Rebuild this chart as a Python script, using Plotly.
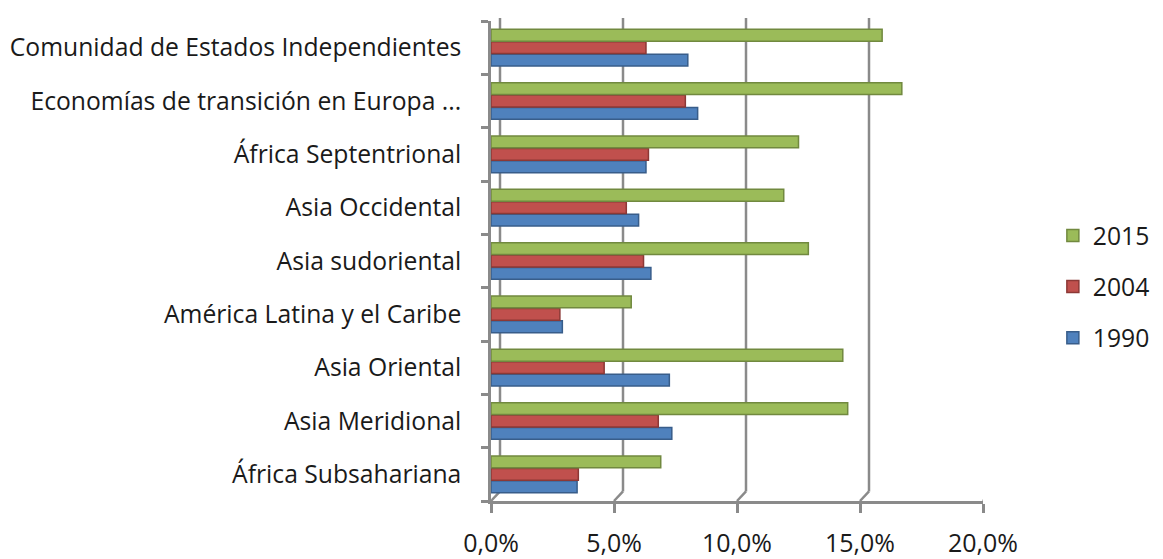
import plotly.graph_objects as go

categories = [
    "África Subsahariana",
    "Asia Meridional",
    "Asia Oriental",
    "América Latina y el Caribe",
    "Asia sudoriental",
    "Asia Occidental",
    "África Septentrional",
    "Economías de transición en Europa ...",
    "Comunidad de Estados Independientes",
]
v1990 = [3.5, 7.35, 7.25, 2.9, 6.5, 6.0, 6.3, 8.4, 8.0]
v2004 = [3.55, 6.8, 4.6, 2.8, 6.2, 5.5, 6.4, 7.9, 6.3]
v2015 = [6.9, 14.5, 14.3, 5.7, 12.9, 11.9, 12.5, 16.7, 15.9]
tick_vals = [0, 5, 10, 15, 20]
tick_text = ["0,0%", "5,0%", "10,0%", "15,0%", "20,0%"]

series = [("1990", v1990, "#4F81BD", "#385D8A", 3),
          ("2004", v2004, "#C0504D", "#8C3836", 2),
          ("2015", v2015, "#9BBB59", "#71893F", 1)]

GRID = "#8a8a8a"
fig = go.Figure()
for name, vals, col, lcol, rank in series:
    fig.add_trace(go.Bar(
        y=categories, x=vals, name=name, orientation="h", legendgroup=name,
        legendrank=rank,
        marker=dict(color=col, line=dict(color=lcol, width=1.5)),
    ))

# back-wall gridlines (3D look): offset a few pixels from the front axis ticks
shapes = []
for t in tick_vals:
    shapes.append(dict(type="line", xref="x", yref="paper", xsizemode="pixel", xanchor=t,
                       x0=9, x1=9, y0=0.02, y1=1.006, line=dict(color=GRID, width=2.5),
                       layer="below"))
    shapes.append(dict(type="line", xref="x", yref="paper", xsizemode="pixel", xanchor=t,
                       x0=0, x1=9, y0=0.0, y1=0.02, line=dict(color=GRID, width=2.5),
                       layer="below"))

font = "Open Sans"
fig.update_layout(
    width=1163, height=559,
    margin=dict(l=483, r=188, t=13, b=66, autoexpand=False),
    barmode="group", bargap=0.3, bargroupgap=0.05,
    plot_bgcolor="white", paper_bgcolor="white",
    font=dict(family=font, size=24.7, color="#1a1a1a"),
    shapes=shapes,
    legend=dict(traceorder="grouped", x=1.142, y=0.446, xanchor="left", yanchor="middle",
                font=dict(size=24.7), itemwidth=30, tracegroupgap=16),
    xaxis=dict(range=[0, 20], tickvals=tick_vals, ticktext=tick_text,
               showgrid=False, automargin=False,
               showline=True, linecolor=GRID, linewidth=2.5,
               ticks="outside", ticklen=9, tickcolor=GRID, tickwidth=2.5,
               ticklabelstandoff=9,
               zeroline=False, tickfont=dict(size=25)),
    yaxis=dict(showline=True, linecolor=GRID, linewidth=2.5, automargin=False,
               ticks="outside", ticklen=7, tickcolor=GRID, tickwidth=2.5,
               tickson="boundaries", ticklabelstandoff=22, tickfont=dict(size=24.7)),
)
fig.write_html("out.html")
